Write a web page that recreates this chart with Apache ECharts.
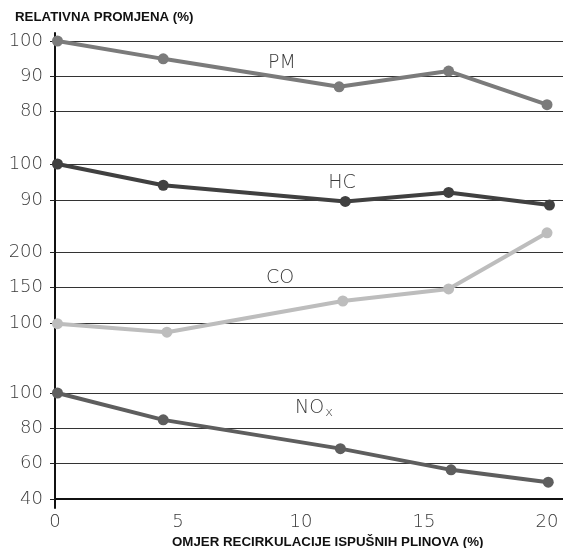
<!DOCTYPE html>
<html><head><meta charset="utf-8">
<script src="https://cdn.jsdelivr.net/npm/echarts@6/dist/echarts.min.js"></script>
<style>html,body{margin:0;padding:0;background:#fff}#c{width:563px;height:548px}</style>
</head><body><div id="c"></div>
<script>
// ---- data ----
const xTicks = [0, 5, 10, 15, 20];
const pmX  = [0.1, 4.4, 11.55, 16, 20];
const pmY  = [100, 94.9, 86.9, 91.4, 81.8];
const hcX  = [0.1, 4.4, 11.8, 16, 20.1];
const hcY  = [100, 94.1, 89.6, 92.1, 88.6];
const coX  = [0.1, 4.55, 11.7, 16, 20];
const coY  = [99, 87, 131, 148, 227];
const noxX = [0.1, 4.4, 11.6, 16.1, 20.05];
const noxY = [100, 84.8, 68.5, 56.5, 49.5];
const pmTicks  = [80, 100, 10];
const hcTicks  = [90, 100, 10];
const coTicks  = [100, 200, 50];
const noxTicks = [40, 100, 20];

// ---- layout / style ----
const panels = [
  {x: pmX,  y: pmY,  t: pmTicks,  top: 41,  height: 70,  color: '#7b7b7b'},
  {x: hcX,  y: hcY,  t: hcTicks,  top: 164, height: 36,  color: '#404040'},
  {x: coX,  y: coY,  t: coTicks,  top: 252, height: 71,  color: '#bdbdbd'},
  {x: noxX, y: noxY, t: noxTicks, top: 393, height: 106, color: '#5e5e5e'}
];
const XMAX = 20.65;
const labelFont = {fontFamily: 'DejaVu Sans', fontWeight: 200, fontSize: 18, color: '#3a3a3a'};

const grid = [], xAxis = [], yAxis = [], series = [];
panels.forEach((p, i) => {
  grid.push({left: 55, right: 0, top: p.top, height: p.height});
  const last = i === panels.length - 1;
  xAxis.push({
    type: 'value', gridIndex: i, min: 0, max: XMAX, show: last,
    axisLine: {show: last, onZero: false, lineStyle: {color: '#111', width: 2}},
    axisTick: {show: false},
    splitLine: {show: false},
    axisLabel: Object.assign({show: last, margin: 14, customValues: xTicks}, labelFont)
  });
  yAxis.push({
    type: 'value', gridIndex: i, min: p.t[0], max: p.t[1], interval: p.t[2],
    axisLine: {show: false},
    axisTick: {show: true, length: 5, lineStyle: {color: '#222', width: 1}},
    splitLine: {show: true, lineStyle: {color: '#333', width: 1}},
    axisLabel: Object.assign({margin: 12}, labelFont)
  });
  series.push({
    type: 'line', xAxisIndex: i, yAxisIndex: i, clip: false,
    data: p.x.map((v, k) => [v, p.y[k]]),
    symbol: 'circle', symbolSize: 11,
    lineStyle: {color: p.color, width: 4},
    itemStyle: {color: p.color},
    animation: false
  });
});
// continuous left axis line
grid.push({left: 55, right: 0, top: 33, bottom: 40});
xAxis.push({type: 'value', gridIndex: 4, min: 0, max: XMAX, show: false});
yAxis.push({type: 'value', gridIndex: 4, min: 0, max: 1,
  axisLine: {show: true, onZero: false, lineStyle: {color: '#111', width: 2}},
  axisTick: {show: false}, axisLabel: {show: false}, splitLine: {show: false}});

const nameFont = '200 19px "DejaVu Sans"';
const nameColor = '#3a3a3a';
const boldFont = 'bold 13.3px "Liberation Sans"';
const chart = echarts.init(document.getElementById('c'), null, {renderer: 'canvas'});
chart.setOption({
  animation: false,
  backgroundColor: '#fff',
  grid, xAxis, yAxis, series,
  graphic: [
    {type: 'text', x: 15, y: 17, style: {text: 'RELATIVNA PROMJENA (%)', font: boldFont, fill: '#111', textAlign: 'left', textVerticalAlign: 'middle'}},
    {type: 'text', x: 172, y: 542, style: {text: 'OMJER RECIRKULACIJE ISPUŠNIH PLINOVA (%)', font: boldFont, fill: '#111', textAlign: 'left', textVerticalAlign: 'middle'}},
    {type: 'text', x: 282, y: 63, style: {text: 'PM', font: nameFont, fill: nameColor, textAlign: 'center', textVerticalAlign: 'middle'}},
    {type: 'text', x: 342, y: 183, style: {text: 'HC', font: nameFont, fill: nameColor, textAlign: 'center', textVerticalAlign: 'middle'}},
    {type: 'text', x: 280, y: 278, style: {text: 'CO', font: nameFont, fill: nameColor, textAlign: 'center', textVerticalAlign: 'middle'}},
    {type: 'text', x: 295, y: 408, style: {text: 'NO{sub|x}', font: nameFont, fill: nameColor, textAlign: 'left', textVerticalAlign: 'middle',
      rich: {sub: {fontFamily: 'DejaVu Sans', fontWeight: 200, fontSize: 13, fill: nameColor, padding: [10, 0, 0, 1]}}}}
  ]
});
</script></body></html>
